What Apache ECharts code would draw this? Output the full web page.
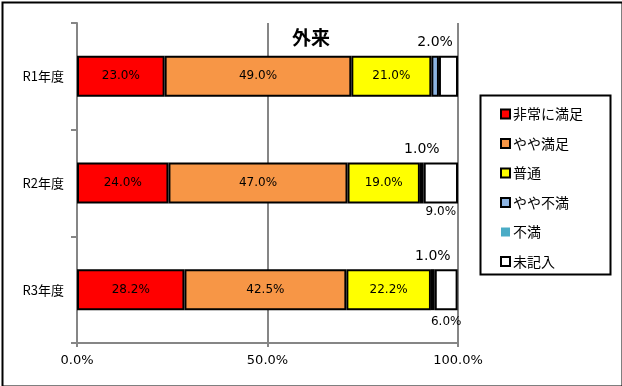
<!DOCTYPE html>
<html><head><meta charset="utf-8">
<script src="https://cdn.jsdelivr.net/npm/echarts@6/dist/echarts.min.js"></script>
<style>html,body{margin:0;padding:0;background:#fff}#c{width:622px;height:386px}</style>
</head><body><div id="c"></div>
<script>
const categories = ['R1年度', 'R2年度', 'R3年度'];
const seriesNames = ['非常に満足', 'やや満足', '普通', 'やや不満', '不満', '未記入'];
const verySatisfied = [23.0, 24.0, 28.2];
const satisfied = [49.0, 47.0, 42.5];
const neutral = [21.0, 19.0, 22.2];
const slightlyDissatisfied = [2.0, 1.0, 1.0];
const dissatisfied = [0, 0, 0];
const noAnswer = [5.0, 9.0, 6.0];
const xTicks = [0, 50, 100];

const FONT = '"DejaVu Sans", "Noto Sans CJK JP", sans-serif';
const colors = ['#FF0000', '#F79646', '#FFFF00', '#8DB4E2', '#4BACC6', '#FFFFFF'];
const values = [verySatisfied, satisfied, neutral, slightlyDissatisfied, dissatisfied, noAnswer];
const fmt = p => p.value.toFixed(1) + '%';

const series = seriesNames.map((name, i) => {
  const s = {
    name, type: 'bar', stack: 'total', barWidth: 41,
    itemStyle: {color: colors[i], borderColor: '#000', borderWidth: 2},
    data: values[i].slice(),
    label: {show: false}
  };
  if (i < 3) {
    s.label = {show: true, position: 'inside', formatter: fmt, color: '#000', fontSize: 12, fontFamily: FONT};
  } else if (i === 3) {
    s.label = {show: true, position: 'top', distance: 6, formatter: fmt, color: '#000', fontSize: 14, fontFamily: FONT};
  } else if (i === 4) {
    s.itemStyle.borderWidth = 0;
  } else if (i === 5) {
    s.data = values[i].map((v, j) => j === 0 ? {value: v, label: {show: false}} :
      {value: v, label: {show: true, position: 'bottom', distance: j === 1 ? 2 : 6, formatter: fmt, color: '#000', fontSize: 12, fontFamily: FONT}});
  }
  return s;
});

const chart = echarts.init(document.getElementById('c'));
chart.setOption({
  animation: false,
  title: {text: '外来', left: 'center', top: 23, textStyle: {fontSize: 19, fontWeight: 'bold', color: '#000', fontFamily: '"Noto Sans CJK JP", sans-serif'}},
  grid: {left: 77, right: 164, top: 23, bottom: 43},
  legend: {
    orient: 'vertical', left: 495, top: 102, itemGap: 15.5,
    itemWidth: 9, itemHeight: 9, icon: 'rect',
    textStyle: {fontSize: 14, color: '#000', fontFamily: '"Noto Sans CJK JP", sans-serif', padding: [0, 0, 0, -2]},
    data: seriesNames.map((n, i) => ({name: n, itemStyle: {color: colors[i], borderColor: '#000', borderWidth: i === 4 ? 0 : 2}}))
  },
  xAxis: {
    type: 'value', min: xTicks[0], max: xTicks[xTicks.length - 1], interval: 50,
    axisLine: {show: true, lineStyle: {color: '#868686', width: 2}},
    axisTick: {show: true, length: 4, lineStyle: {color: '#868686', width: 2}},
    splitLine: {show: true, lineStyle: {color: '#868686', width: 2}},
    axisLabel: {formatter: v => v.toFixed(1) + '%', fontSize: 13, color: '#000', margin: 11, fontFamily: FONT}
  },
  yAxis: {
    type: 'category', inverse: true, data: categories,
    axisLine: {show: true, lineStyle: {color: '#868686', width: 2}},
    axisTick: {show: true, length: 6, lineStyle: {color: '#868686', width: 2}},
    axisLabel: {fontSize: 13, color: '#000', margin: 13, fontFamily: '"Noto Sans CJK JP", sans-serif'}
  },
  graphic: [
    {type: 'rect', left: 478, top: 93, shape: {x: 0, y: 0, width: 130, height: 179}, style: {fill: 'none', stroke: '#000', lineWidth: 2}, z: -1},
    {type: 'rect', left: 0, top: 0, shape: {x: 1, y: 1, width: 620, height: 384}, style: {fill: 'none', stroke: '#000', lineWidth: 2}, z: 100}
  ],
  series
});
</script></body></html>
